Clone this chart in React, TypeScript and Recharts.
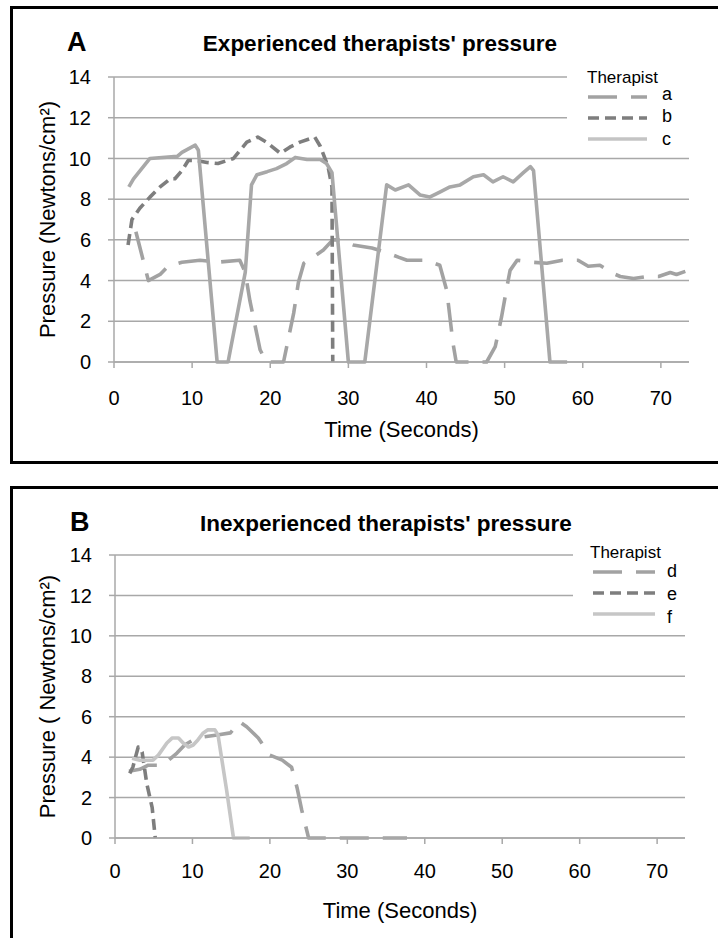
import React from 'react';
import { LineChart, Line, XAxis, YAxis, CartesianGrid, Legend } from 'recharts';

// [time (s), pressure (N/cm²)] pairs
const therapistA: [number, number][] = [
  [2.8, 6.4], [4.4, 4.0], [5.9, 4.3], [6.9, 4.7], [8.7, 4.9], [11, 5.0], [13.2, 4.9], [16.1, 5.0],
  [16.8, 4.4], [17.4, 3.0], [18.7, 0.6], [19.5, 0], [21.7, 0], [23, 2.4], [23.6, 3.9], [24.3, 4.85],
  [25.5, 5.15], [26.8, 5.5], [28, 6.0], [29, 6.0], [30.6, 5.75], [33, 5.6], [34.7, 5.4], [36.4, 5.15],
  [37.5, 5.0], [40, 5.0], [41.7, 4.75], [42.6, 3.5], [43.4, 0.9], [43.8, 0], [47.7, 0], [48.8, 0.75],
  [49.6, 2.2], [50.3, 3.7], [50.7, 4.5], [51.6, 5.0], [53.6, 4.9], [55.4, 4.85], [57.4, 5.0],
  [59.4, 5.0], [60.7, 4.7], [62.2, 4.75], [63.9, 4.35], [64.8, 4.2], [66.5, 4.1], [68.2, 4.2],
  [69.7, 4.2], [71.2, 4.4], [72, 4.3], [73.5, 4.5],
];

const therapistB: [number, number][] = [
  [1.8, 5.75], [2.3, 7.0], [3.3, 7.55], [4.6, 8.1], [5.9, 8.6], [7.2, 9.0], [7.8, 9.0], [8.7, 9.4],
  [9.5, 9.9], [10.6, 9.9], [11.9, 9.8], [13.3, 9.75], [15.3, 10.0], [17, 10.8], [18.4, 11.05],
  [19.5, 10.8], [21.3, 10.25], [22.5, 10.55], [23.8, 10.8], [25.7, 11.05], [26.4, 10.6], [27.4, 9.6],
  [27.9, 8.6], [28, 0],
];

const therapistC: [number, number][] = [
  [1.9, 8.6], [2.5, 9.0], [4.6, 10.0], [8.1, 10.1], [8.7, 10.3], [10.4, 10.65], [10.8, 10.4],
  [13.2, 0], [14.6, 0], [16.8, 4.4], [17.6, 8.7], [18.3, 9.2], [19.6, 9.35], [20.8, 9.5], [22.1, 9.75],
  [23.2, 10.05], [24.7, 9.95], [26.4, 9.95], [27.2, 9.75], [27.9, 9.3], [30, 0], [32.1, 0],
  [34.9, 8.7], [36, 8.45], [37.7, 8.7], [39.2, 8.2], [40.4, 8.1], [41.7, 8.35], [43, 8.6], [44.3, 8.7],
  [46, 9.1], [47.3, 9.2], [48.5, 8.85], [49.8, 9.1], [51.1, 8.85], [52.4, 9.3], [53.3, 9.6],
  [53.7, 9.4], [55.8, 0], [58, 0],
];

const therapistD: [number, number][] = [
  [1.8, 3.3], [3.2, 3.4], [4.3, 3.6], [5.8, 3.6], [6.9, 3.85], [8, 4.2], [9, 4.6], [10.1, 4.85],
  [11.4, 5.0], [13.2, 5.1], [14.9, 5.2], [16.1, 5.75], [17, 5.5], [18.5, 4.95], [20, 4.1],
  [21.6, 3.85], [22.8, 3.5], [23.5, 2.5], [24.1, 1.4], [25, 0], [37.7, 0],
];

const therapistE: [number, number][] = [
  [1.9, 3.2], [2.3, 3.5], [3, 4.5], [3.5, 4.25], [4.1, 2.7], [4.8, 1.5], [5.2, 0],
];

const therapistF: [number, number][] = [
  [2.2, 3.95], [3.2, 3.85], [4.9, 3.85], [5.6, 4.1], [6.7, 4.7], [7.4, 4.95], [8.2, 4.95], [8.8, 4.7],
  [9.5, 4.5], [10.1, 4.6], [10.7, 4.85], [11.4, 5.2], [12, 5.35], [12.9, 5.35], [13.3, 5.1],
  [14.4, 2.4], [15.3, 0], [17.4, 0],
];

const timeTicks = [0, 10, 20, 30, 40, 50, 60, 70];
const pressureTicks = [0, 2, 4, 6, 8, 10, 12, 14];

const toPoints = (pairs: [number, number][]) => pairs.map(([t, p]) => ({ t, p }));

const GRID = '#a8a8a8';
const FONT = '"Liberation Sans", Arial, sans-serif';

type Series = { name: string; pairs: [number, number][]; color: string; key: string; dash?: string };

const experienced: Series[] = [
  { name: 'a', pairs: therapistA, color: '#a2a2a2', key: '#a2a2a2', dash: '29 14' },
  { name: 'b', pairs: therapistB, color: '#7e7e7e', key: '#7e7e7e', dash: '11 6' },
  { name: 'c', pairs: therapistC, color: '#a8a8a8', key: '#c4c4c4' },
];

const inexperienced: Series[] = [
  { name: 'd', pairs: therapistD, color: '#a2a2a2', key: '#a2a2a2', dash: '29 14' },
  { name: 'e', pairs: therapistE, color: '#7e7e7e', key: '#7e7e7e', dash: '11 6' },
  { name: 'f', pairs: therapistF, color: '#c6c6c6', key: '#c6c6c6' },
];

type LegendLayout = {
  left: number; top: number; w: number; h: number;
  headX: number; headY: number; x1: number; x2: number; labelX: number;
  lineY: number[]; textY: number[];
};

function TherapistLegend({ series, lay }: { series: Series[]; lay: LegendLayout }) {
  return (
    <svg width={lay.w} height={lay.h} style={{ display: 'block', background: '#fff' }}>
      <text x={lay.headX} y={lay.headY} fontSize={17} fill="#000">Therapist</text>
      {series.map((s, i) => (
        <g key={s.name}>
          <line x1={lay.x1} x2={lay.x2} y1={lay.lineY[i]} y2={lay.lineY[i]}
            stroke={s.key} strokeWidth={3.5} strokeDasharray={s.dash} />
          <text x={lay.labelX} y={lay.textY[i]} fontSize={18} fill="#000">{s.name}</text>
        </g>
      ))}
    </svg>
  );
}

type PanelProps = {
  top: number; height: number;
  margin: { top: number; right: number; bottom: number; left: number };
  plot: { left: number; right: number; top: number; bottom: number };
  letter: string; letterX: number; title: string; titleX: number; baseline: number;
  yLabel: string; xTickMargin: number; xTitleY: number;
  series: Series[]; legend: LegendLayout;
};

function PressurePanel(p: PanelProps) {
  const midX = (p.plot.left + p.plot.right) / 2;
  const midY = (p.plot.top + p.plot.bottom) / 2;
  return (
    <div style={{ position: 'absolute', left: 0, top: p.top, width: 718, height: p.height }}>
      <div style={{ position: 'absolute', left: p.letterX, top: p.baseline - 0.8465 * 27,
        fontSize: 27, lineHeight: '27px', fontWeight: 'bold' }}>{p.letter}</div>
      <div style={{ position: 'absolute', left: p.titleX - 250, width: 500, textAlign: 'center',
        top: p.baseline - 0.8465 * 22.5, fontSize: 22.5, lineHeight: '22.5px', fontWeight: 'bold' }}>{p.title}</div>
      <LineChart width={718} height={p.height} margin={p.margin}>
        <CartesianGrid vertical={false} stroke={GRID} strokeWidth={1.5} />
        <XAxis type="number" dataKey="t" domain={[0, 73.6]} ticks={timeTicks} allowDataOverflow
          height={30} stroke={GRID} strokeWidth={1.5} tickSize={6} tickMargin={p.xTickMargin}
          tick={{ fill: '#000', fontSize: 20 }}
          label={() => (
            <text x={midX} y={p.xTitleY} textAnchor="middle" fontSize={22} fill="#000">Time (Seconds)</text>
          )} />
        <YAxis type="number" domain={[0, 14]} ticks={pressureTicks} width={60}
          stroke={GRID} strokeWidth={1.5} tickSize={6} tickMargin={17}
          tick={{ fill: '#000', fontSize: 20 }}
          label={() => (
            <text x={55} y={midY} transform={`rotate(-90, 55, ${midY})`} textAnchor="middle"
              fontSize={22} fill="#000">{p.yLabel}</text>
          )} />
        <Legend layout="vertical" align="center" verticalAlign="middle"
          wrapperStyle={{ left: p.legend.left, top: p.legend.top, width: p.legend.w, height: p.legend.h, lineHeight: 0 }}
          content={() => <TherapistLegend series={p.series} lay={p.legend} />} />
        {p.series.map((s) => (
          <Line key={s.name} name={s.name} data={toPoints(s.pairs)} dataKey="p" type="linear"
            stroke={s.color} strokeWidth={3.6} strokeDasharray={s.dash} strokeLinejoin="round"
            dot={false} activeDot={false} isAnimationActive={false} />
        ))}
      </LineChart>
    </div>
  );
}

export default function App() {
  return (
    <div style={{ position: 'absolute', left: 0, top: 0, width: 718, height: 938, overflow: 'hidden',
      background: '#fff', fontFamily: FONT, color: '#000' }}>
      <div style={{ position: 'absolute', left: 10, top: 6, width: 740, height: 458,
        border: '3px solid #000', boxSizing: 'border-box' }} />
      <div style={{ position: 'absolute', left: 10, top: 486, width: 740, height: 500,
        border: '3px solid #000', boxSizing: 'border-box' }} />

      <PressurePanel
        top={0} height={470}
        margin={{ top: 77, right: 29, bottom: 78, left: 54 }}
        plot={{ left: 114, right: 689, top: 77, bottom: 362 }}
        letter="A" letterX={67} title="Experienced therapists' pressure" titleX={380} baseline={52}
        yLabel="Pressure (Newtons/cm²)" xTickMargin={23} xTitleY={437}
        series={experienced}
        legend={{ left: 567, top: 64, w: 140, h: 90, headX: 20, headY: 19, x1: 21, x2: 80, labelX: 95,
          lineY: [33, 54, 75], textY: [36, 58, 81] }}
      />
      <PressurePanel
        top={470} height={468}
        margin={{ top: 85, right: 33, bottom: 70, left: 55 }}
        plot={{ left: 115, right: 685, top: 85, bottom: 368 }}
        letter="B" letterX={70} title="Inexperienced therapists' pressure" titleX={386} baseline={62}
        yLabel="Pressure ( Newtons/cm²)" xTickMargin={20} xTitleY={448}
        series={inexperienced}
        legend={{ left: 573, top: 73, w: 135, h: 90, headX: 17, headY: 15, x1: 20, x2: 82, labelX: 94,
          lineY: [29, 50, 71], textY: [34, 57, 80] }}
      />
    </div>
  );
}
